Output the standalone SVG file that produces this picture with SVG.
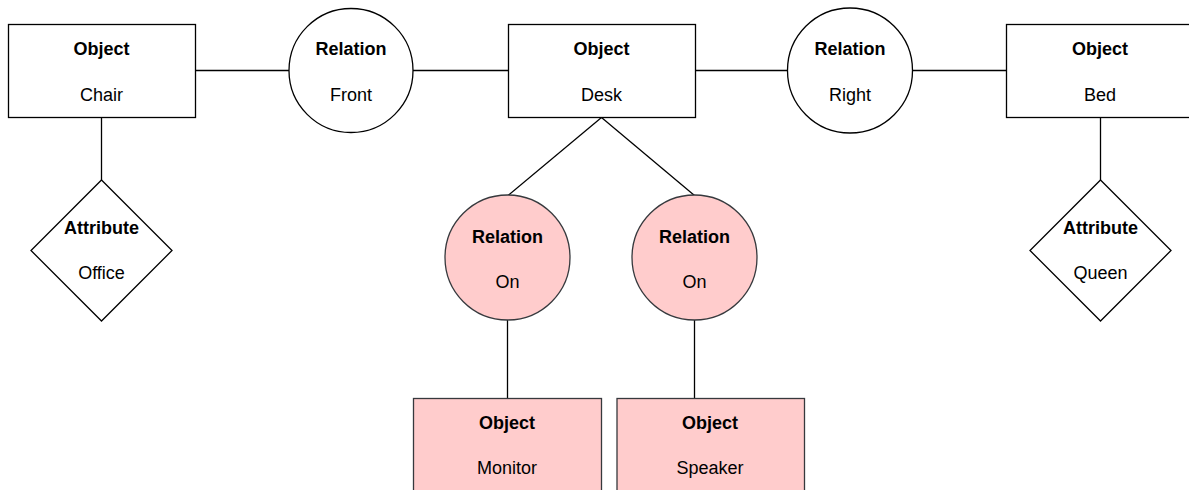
<svg xmlns="http://www.w3.org/2000/svg" width="1189" height="490" viewBox="0 0 1189 490">
  <style>
    .shape { fill: #ffffff; stroke: #000000; stroke-width: 1.3; }
    .hl { fill: #ffcccc; stroke: #36393d; stroke-width: 1.3; }
    .edge { fill: none; stroke: #000000; stroke-width: 1.3; }
    text { font-family: "Liberation Sans", Arial, sans-serif; font-size: 18px; text-anchor: middle; fill: #000000; }
    .title { font-weight: bold; }
  </style>
  <rect width="1189" height="490" fill="#ffffff"/>

  <!-- connectors -->
  <g id="connectors">
    <line class="edge" x1="195.5" y1="70.5" x2="289" y2="70.5"/>
    <line class="edge" x1="413" y1="70.5" x2="508.5" y2="70.5"/>
    <line class="edge" x1="695.5" y1="70.5" x2="787.5" y2="70.5"/>
    <line class="edge" x1="913" y1="70.5" x2="1006.5" y2="70.5"/>
    <line class="edge" x1="101.5" y1="117.5" x2="101.5" y2="180"/>
    <line class="edge" x1="1100.5" y1="117.5" x2="1100.5" y2="180"/>
    <line class="edge" x1="601.5" y1="117.5" x2="508" y2="195.5"/>
    <line class="edge" x1="601.5" y1="117.5" x2="694.5" y2="195.5"/>
    <line class="edge" x1="507.5" y1="320" x2="507.5" y2="398.5"/>
    <line class="edge" x1="694.5" y1="320" x2="694.5" y2="398.5"/>
  </g>

  <!-- top row -->
  <g id="obj-chair">
    <rect class="shape" x="8.5" y="24.5" width="187" height="93"/>
    <text class="title" x="101.5" y="55">Object</text>
    <text x="101.5" y="101">Chair</text>
  </g>
  <g id="rel-front">
    <circle class="shape" cx="351" cy="70.5" r="62"/>
    <text class="title" x="351" y="55">Relation</text>
    <text x="351" y="101">Front</text>
  </g>
  <g id="obj-desk">
    <rect class="shape" x="508.5" y="24.5" width="187" height="93"/>
    <text class="title" x="601.5" y="55">Object</text>
    <text x="601.5" y="101">Desk</text>
  </g>
  <g id="rel-right">
    <circle class="shape" cx="850" cy="70.5" r="62.5"/>
    <text class="title" x="850" y="55">Relation</text>
    <text x="850" y="101">Right</text>
  </g>
  <g id="obj-bed">
    <rect class="shape" x="1006.5" y="24.5" width="187" height="93"/>
    <text class="title" x="1100" y="55">Object</text>
    <text x="1100" y="101">Bed</text>
  </g>

  <!-- attributes -->
  <g id="attr-office">
    <polygon class="shape" points="101.5,180 172,250.5 101.5,321 31,250.5"/>
    <text class="title" x="101.5" y="234">Attribute</text>
    <text x="101.5" y="279">Office</text>
  </g>
  <g id="attr-queen">
    <polygon class="shape" points="1100.5,180 1171,250.5 1100.5,321 1030,250.5"/>
    <text class="title" x="1100.5" y="234">Attribute</text>
    <text x="1100.5" y="279">Queen</text>
  </g>

  <!-- highlighted branch -->
  <g id="rel-on-1">
    <circle class="hl" cx="507.5" cy="257.5" r="62.5"/>
    <text class="title" x="507.5" y="242.5">Relation</text>
    <text x="507.5" y="287.5">On</text>
  </g>
  <g id="rel-on-2">
    <circle class="hl" cx="694.5" cy="257.5" r="62.5"/>
    <text class="title" x="694.5" y="242.5">Relation</text>
    <text x="694.5" y="287.5">On</text>
  </g>
  <g id="obj-monitor">
    <rect class="hl" x="413.5" y="398.5" width="188" height="100"/>
    <text class="title" x="507" y="429">Object</text>
    <text x="507" y="474">Monitor</text>
  </g>
  <g id="obj-speaker">
    <rect class="hl" x="617" y="398.5" width="187.5" height="100"/>
    <text class="title" x="710" y="429">Object</text>
    <text x="710" y="474">Speaker</text>
  </g>
</svg>
